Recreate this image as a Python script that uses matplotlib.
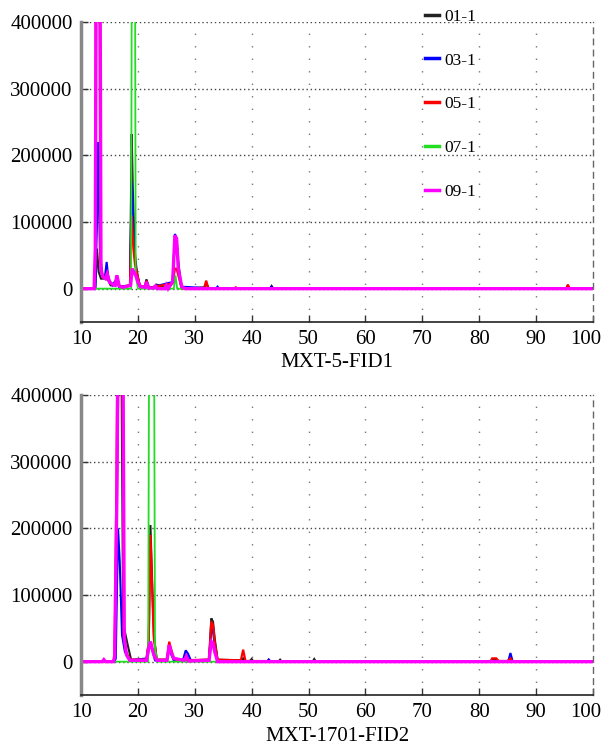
import matplotlib
matplotlib.use("Agg")
import matplotlib.pyplot as plt

plt.rcParams['font.family'] = ['Liberation Serif', 'DejaVu Serif']

labels = ['01-1', '03-1', '05-1', '07-1', '09-1']
colors = ['#222222', '#0000ff', '#ff0000', '#22dd22', '#ff00ff']
widths = [1.5, 1.5, 1.6, 1.3, 2.4]

x_ticks = [10, 20, 30, 40, 50, 60, 70, 80, 90, 100]
y_ticks = [0, 100000, 200000, 300000, 400000]
y_tick_labels = ['0', '100000', '200000', '300000', '400000']
titles = ['MXT-5-FID1', 'MXT-1701-FID2']

# ---- panel 1: MXT-5-FID1 ----
p1_x = {
    '01-1': [10, 12.5, 12.8, 13.1, 13.5, 14.0, 14.4, 14.7, 15.2, 16.0, 16.3, 16.7, 18.6, 18.9, 19.1, 19.4, 19.8, 20.3,
             21.2, 21.5, 21.9, 23.0, 23.3, 24.8, 25.0, 25.3, 26.1, 26.5, 26.8, 27.1, 27.6, 28.2, 31.7, 32.0, 32.4,
             43.2, 43.5, 43.8, 95.3, 95.6, 95.9, 100],
    '03-1': [10, 12.5, 12.8, 13.0, 13.3, 13.7, 14.2, 14.5, 14.8, 15.5, 16.3, 16.7, 18.6, 18.9, 19.2, 19.5, 19.9, 20.4,
             21.3, 21.5, 21.9, 26.1, 26.5, 26.8, 27.1, 27.6, 33.7, 34.0, 34.3, 43.2, 43.5, 43.8, 100],
    '05-1': [10, 12.3, 12.5, 12.6, 13.2, 13.4, 13.7, 14.3, 14.6, 15.0, 15.6, 16.0, 16.3, 16.7, 17.3, 18.6, 18.9, 19.2,
             19.5, 19.8, 20.3, 21.3, 21.5, 21.9, 26.1, 26.5, 26.8, 27.1, 27.7, 31.6, 32.0, 32.4, 36.9, 37.2, 37.5,
             95.3, 95.6, 95.9, 100],
    '07-1': [10, 18.8, 19.0, 19.4, 19.6, 20.0, 26.3, 26.6, 26.9, 100],
    '09-1': [10, 12.3, 12.5, 12.7, 13.3, 13.5, 13.8, 14.3, 14.6, 15.0, 15.6, 16.0, 16.3, 16.7, 17.3, 18.7, 19.0, 19.3,
             19.6, 20.0, 20.4, 21.3, 21.5, 21.9, 22.8, 23.1, 23.4, 24.8, 25.0, 25.3, 26.1, 26.5, 26.8, 27.1, 27.7, 28.3,
             100],
}
p1_y = {
    '01-1': [0, 0, 60000, 25000, 15000, 15000, 22000, 14000, 5000, 5000, 15000, 3000, 5000, 232000, 150000, 60000, 25000, 4000,
             3000, 14000, 2000, 2000, 6000, 1000, 5000, 1000, 10000, 75000, 70000, 40000, 4000, 0, 2000, 8000, 1000,
             0, 4000, 0, 0, 4000, 0, 0],
    '03-1': [0, 0, 100000, 220000, 60000, 20000, 18000, 40000, 15000, 5000, 15000, 2000, 4000, 160000, 100000, 40000, 20000, 3000,
             2000, 12000, 1000, 10000, 82000, 75000, 30000, 3000, 0, 3000, 0, 0, 3000, 0, 0],
    '05-1': [0, 0, 40000, 600000, 600000, 40000, 20000, 15000, 25000, 10000, 6000, 5000, 20000, 5000, 2000, 5000, 110000, 60000,
             35000, 25000, 5000, 2000, 12000, 1000, 8000, 30000, 30000, 20000, 0, 0, 12000, 0, 0, 2000, 0,
             0, 6000, 0, 0],
    '07-1': [0, 0, 900000, 900000, 20000, 0, 0, 20000, 0, 0],
    '09-1': [0, 0, 60000, 600000, 600000, 30000, 18000, 15000, 22000, 10000, 6000, 5000, 20000, 4000, 2000, 5000, 30000, 25000,
             20000, 10000, 3000, 2000, 10000, 1000, 1000, 4000, 0, 0, 5000, 0, 10000, 80000, 75000, 30000, 3000, 0,
             0],
}

# ---- panel 2: MXT-1701-FID2 ----
p2_x = {
    '01-1': [10, 13.8, 14.0, 14.2, 15.7, 15.9, 16.3, 16.6, 17.1, 17.4, 17.7, 18.2, 18.8, 21.5, 21.9, 22.2, 22.5, 22.8, 23.3,
             25.1, 25.5, 25.8, 26.3, 28.1, 28.5, 28.9, 32.5, 32.9, 33.2, 33.5, 34.0, 38.2, 38.5, 38.8, 39.7, 40.0, 40.3,
             42.7, 43.0, 43.3, 44.7, 45.0, 45.3, 50.7, 51.0, 51.3, 82.0, 82.3, 83.0, 83.4, 85.1, 85.5, 85.9, 100],
    '03-1': [10, 15.9, 16.1, 16.5, 16.8, 17.2, 17.7, 18.5, 21.7, 22.0, 22.3, 22.6, 23.0, 25.1, 25.5, 25.8, 26.3, 27.9, 28.4,
             28.8, 29.3, 32.5, 32.9, 33.2, 33.5, 34.0, 42.7, 43.0, 43.3, 85.1, 85.5, 85.9, 100],
    '05-1': [10, 15.7, 15.9, 16.2, 16.5, 17.2, 17.5, 17.9, 18.6, 21.5, 21.9, 22.2, 22.5, 22.8, 23.3, 25.1, 25.5, 25.8, 26.3,
             27.0, 32.5, 32.9, 33.2, 33.5, 34.0, 38.1, 38.5, 38.9, 82.0, 82.3, 83.0, 83.4, 85.1, 85.5, 85.9, 100],
    '07-1': [10, 21.8, 22.1, 22.7, 23.0, 23.4, 100],
    '09-1': [10, 13.7, 14.0, 14.3, 15.7, 15.9, 16.3, 16.6, 17.3, 17.6, 18.0, 18.6, 21.5, 21.9, 22.2, 22.5, 22.8, 23.3, 25.1,
             25.5, 25.8, 26.3, 28.1, 28.5, 28.9, 32.5, 32.9, 33.2, 33.5, 34.0, 100],
}
p2_y = {
    '01-1': [0, 0, 3000, 0, 0, 8000, 250000, 450000, 450000, 60000, 45000, 25000, 3000, 3000, 30000, 205000, 120000, 40000, 3000,
             3000, 25000, 15000, 3000, 3000, 10000, 2000, 3000, 65000, 60000, 35000, 3000, 2000, 5000, 1000, 1000, 4000, 0,
             0, 3000, 0, 0, 3000, 0, 0, 4000, 0, 0, 4000, 4000, 1000, 1000, 8000, 0, 0],
    '03-1': [0, 0, 5000, 200000, 150000, 40000, 15000, 2000, 5000, 30000, 28000, 15000, 2000, 1000, 20000, 12000, 2000, 2000, 17000,
             12000, 2000, 2000, 50000, 45000, 25000, 2000, 0, 3000, 0, 0, 13000, 0, 0],
    '05-1': [0, 0, 8000, 250000, 600000, 600000, 40000, 15000, 3000, 3000, 30000, 190000, 110000, 35000, 3000, 3000, 30000, 20000, 5000,
             2000, 3000, 60000, 55000, 30000, 3000, 2000, 18000, 1000, 0, 5000, 5000, 1000, 1000, 5000, 0, 0],
    '07-1': [0, 0, 900000, 900000, 20000, 0, 0],
    '09-1': [0, 0, 3000, 0, 0, 8000, 250000, 600000, 600000, 35000, 10000, 2000, 2000, 20000, 30000, 20000, 10000, 2000, 2000,
             25000, 15000, 5000, 2000, 8000, 1000, 2000, 30000, 28000, 15000, 0, 0],
}

panels = [(p1_x, p1_y), (p2_x, p2_y)]
fig = plt.figure(figsize=(6.05, 7.45), dpi=100)
positions = [[0.134, 0.5678, 0.846, 0.4027], [0.134, 0.0671, 0.846, 0.4027]]

for i, (px, py) in enumerate(panels):
    ax = fig.add_axes(positions[i])
    for lab, c, lw in zip(labels, colors, widths):
        ax.plot(px[lab], py[lab], color=c, lw=lw, label=lab, solid_joinstyle='miter')
    ax.set_xlim(10, 100)
    ax.set_ylim(-50000, 400000)
    ax.set_xticks(x_ticks)
    ax.set_xticklabels([str(v) for v in x_ticks[:-1]] + [''])
    ax.annotate(str(x_ticks[-1]), xy=(x_ticks[-1], 0), xycoords=('data', 'axes fraction'),
                xytext=(-5, -6), textcoords='offset points', ha='center', va='top', fontsize=15)
    ax.set_yticks(y_ticks)
    ax.set_yticklabels(y_tick_labels)
    ax.tick_params(direction='in', labelsize=15, length=5, width=1, color='#333333', pad=6)
    for v in y_ticks:
        ax.axhline(v, color='#444444', lw=1.0, ls=(0, (1, 2)), zorder=0)
    for v in x_ticks[1:-1]:
        ax.axvline(v, color='#777777', lw=1.0, ls=(0, (1, 8)), zorder=0)
    ax.spines['top'].set_visible(False)
    ax.spines['left'].set_color('#888888')
    ax.spines['left'].set_linewidth(2.5)
    ax.spines['bottom'].set_color('#222222')
    ax.spines['bottom'].set_linewidth(1.2)
    ax.spines['right'].set_color('#666666')
    ax.spines['right'].set_linestyle((0, (4, 4)))
    ax.spines['right'].set_linewidth(1.0)
    ax.set_xlabel(titles[i], fontsize=15, labelpad=3)
    if i == 0:
        leg = ax.legend(loc='upper left', bbox_to_anchor=(0.672, 1.045), frameon=False, fontsize=12.5,
                        handlelength=0.8, handletextpad=0.3, labelspacing=1.6, borderpad=0, borderaxespad=0)
        for h in leg.get_lines():
            h.set_linewidth(2.5)

fig.savefig('out.png', dpi=100)
